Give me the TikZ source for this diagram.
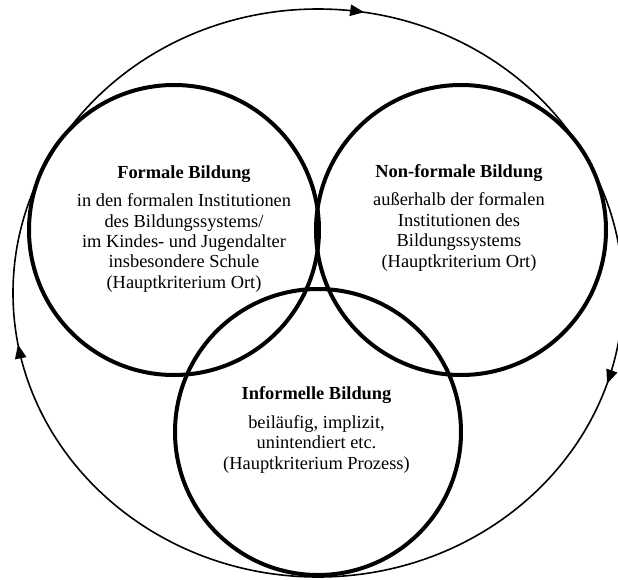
\documentclass[tikz,border=0pt]{standalone}
\usepackage{fontspec}
\setmainfont{Liberation Serif}
\usetikzlibrary{arrows.meta,decorations.markings}

\tikzset{every picture/.style={line width=0.75pt}}
\tikzset{
  bildkreis/.style={line width=3pt},
  kreistext/.style={anchor=north, inner sep=0pt, align=center, font=\fontsize{13.8}{15.3}\selectfont},
  umlauf/.style={line width=1.2pt, postaction={decorate},
    decoration={markings,
      mark=at position 0.05 with {\arrow{Triangle[length=10.5pt,width=8.5pt]}},
      mark=at position 0.472 with {\arrow{Triangle[length=10.5pt,width=8.5pt]}},
      mark=at position 0.775 with {\arrow{Triangle[length=10.5pt,width=8.5pt]}}}}
}

\begin{document}
\begin{tikzpicture}[x=0.75pt,y=0.75pt,yscale=-1,xscale=1]
\clip (0,0) rectangle (618,579);

%Shape: Ellipse (Kreislauf)
\draw [umlauf] (318,293) ellipse (305 and 284);

%Shape: Circle [Formale]
\draw [bildkreis] (174,230) circle (145);
%Shape: Circle [Non-formale]
\draw [bildkreis] (461,230) circle (145);
%Shape: Circle [Informelle]
\draw [bildkreis] (318,432) circle (143);

% Text Node
\node (formal) [kreistext] at (184,165) {\textbf{Formale Bildung}\\[6pt]
  in den formalen Institutionen\\ des Bildungssystems/\\ im Kindes- und Jugendalter\\
  insbesondere Schule\\ (Hauptkriterium Ort)};
% Text Node
\node (nonformal) [kreistext] at (459,164) {\textbf{Non-formale Bildung}\\[6pt]
  außerhalb der formalen\\ Institutionen des\\ Bildungssystems\\ (Hauptkriterium Ort)};
% Text Node
\node (informell) [kreistext] at (316.5,386.5) {\textbf{Informelle Bildung}\\[6pt]
  beiläufig, implizit,\\ unintendiert etc.\\ (Hauptkriterium Prozess)};

\end{tikzpicture}
\end{document}
